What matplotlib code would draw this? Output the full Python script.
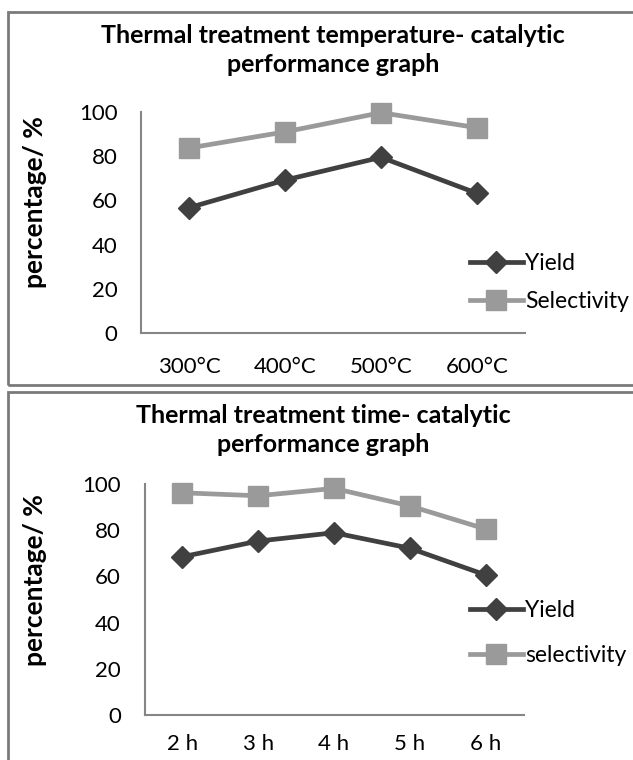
import matplotlib
matplotlib.use("Agg")
import matplotlib.pyplot as plt
from matplotlib.patches import Rectangle

plt.rcParams['font.family'] = ['Lato', 'DejaVu Sans']

# data
temp_labels = ['300°C', '400°C', '500°C', '600°C']
temp_yield = [56.7, 69.2, 79.5, 63.2]
temp_selectivity = [83.7, 91.0, 99.7, 92.9]

time_labels = ['2 h', '3 h', '4 h', '5 h', '6 h']
time_yield = [68.5, 75.3, 78.9, 72.2, 60.6]
time_selectivity = [96.2, 94.9, 98.1, 90.5, 80.5]

W, H = 633, 760
DARK = '#404040'
LIGHT = '#9a9a9a'
AXC = '#868686'

fig = plt.figure(figsize=(W / 100, H / 100), dpi=100)


def px_axes(x0, x1, ytop, ybot):
    return fig.add_axes([x0 / W, (H - ybot) / H, (x1 - x0) / W, (ybot - ytop) / H])


def panel(box, ax_box, labels, yld, sel, sel_name, title_y, title_x, ylab_y, leg_y, spacing, xpad):
    x0, y0, y1 = box
    fig.patches.append(Rectangle((x0 / W, (H - y1) / H), (W + 20 - x0) / W, (y1 - y0) / H,
                                 transform=fig.transFigure, fill=False,
                                 edgecolor='#7a7a7a', linewidth=2, clip_on=False))
    ax = px_axes(*ax_box)
    xs = list(range(len(labels)))
    ax.plot(xs, yld, color=DARK, lw=3.4, marker='D', ms=11, label='Yield', clip_on=False, zorder=3)
    ax.plot(xs, sel, color=LIGHT, lw=3.4, marker='s', ms=14, label=sel_name, clip_on=False, zorder=3)
    ax.set_xlim(-0.5, len(labels) - 0.5)
    ax.set_ylim(0, 100)
    ax.set_yticks(range(0, 101, 20))
    ax.set_xticks(xs)
    ax.set_xticklabels(labels)
    ax.tick_params(length=0, labelsize=16, colors='black')
    ax.tick_params(axis='y', pad=17)
    ax.tick_params(axis='x', pad=xpad)
    for s in ['top', 'right']:
        ax.spines[s].set_visible(False)
    for s in ['left', 'bottom']:
        ax.spines[s].set_color(AXC)
        ax.spines[s].set_linewidth(1.5)
    ax.patch.set_alpha(0)

    fig.text(title_x / W, (H - title_y) / H,
             'Thermal treatment ' + ('temperature' if len(labels) == 4 else 'time') +
             '- catalytic\nperformance graph',
             ha='center', va='center', fontsize=18, fontweight='bold', linespacing=1.35)
    fig.text(35 / W, (H - ylab_y) / H, 'percentage/ %', rotation=90, ha='center', va='center',
             fontsize=19, fontweight='bold')
    fig.legend(handles=ax.get_lines(), loc='upper left', bbox_to_anchor=(470 / W, (H - leg_y) / H),
               frameon=False, fontsize=16.5, handlelength=2.3, handletextpad=0.1,
               borderpad=0, borderaxespad=0, labelspacing=spacing, numpoints=1)
    return ax


panel((8, 12, 385), (141, 525, 112, 333), temp_labels, temp_yield, temp_selectivity,
      'Selectivity', 50, 333, 202, 253, 0.76, 17)
panel((8, 392, 780), (144.5, 523.6, 484, 715), time_labels, time_yield, time_selectivity,
      'selectivity', 430, 323, 580, 600, 1.03, 14)

fig.savefig('out.png', dpi=100, facecolor='white')
